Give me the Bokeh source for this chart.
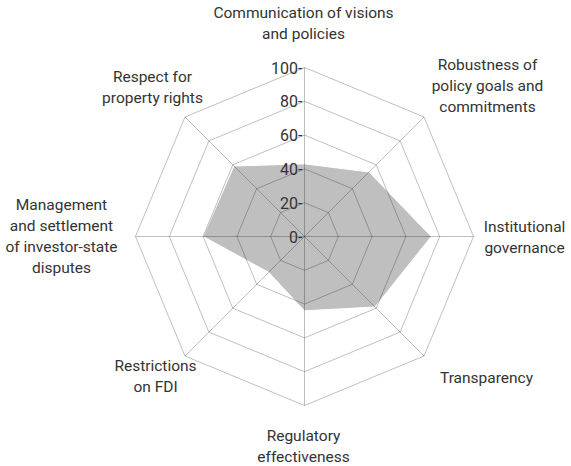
import math
from bokeh.plotting import figure
from bokeh.models import Range1d
from bokeh.core.properties import value
from bokeh.embed import file_html
from bokeh.resources import INLINE

# ---- data ----
categories = [
    "Communication of visions and policies",
    "Robustness of policy goals and commitments",
    "Institutional governance",
    "Transparency",
    "Regulatory effectiveness",
    "Restrictions on FDI",
    "Management and settlement of investor-state disputes",
    "Respect for property rights",
]
scores = [43, 54, 75, 59, 44, 30, 60, 59]
ring_levels = [20, 40, 60, 80, 100]
tick_labels = ["0-", "20-", "40-", "60-", "80-", "100-"]
tick_values = [0, 20, 40, 60, 80, 100]

# label line breaks (text only)
label_lines = [
    ["Communication of visions", "and policies"],
    ["Robustness of", "policy goals and", "commitments"],
    ["Institutional", "governance"],
    ["Transparency"],
    ["Regulatory", "effectiveness"],
    ["Restrictions", "on FDI"],
    ["Management", "and settlement", "of investor-state", "disputes"],
    ["Respect for", "property rights"],
]

# ---- layout (pixel placement of category labels, page px) ----
CX, CY, S = 304.0, 236.0, 1.69
label_centers = [(303, 12), (487, 64), (524, 226), (486, 377),
                 (303, 435), (155, 365), (61, 204), (152, 76)]
LINE_H = 21

def px2u(px, py):
    return (px - CX) / S, (CY - py) / S

n = len(categories)
angles = [math.pi / 2 - i * 2 * math.pi / n for i in range(n)]

W, H = 571, 466
p = figure(width=W, height=H, output_backend="svg", toolbar_location=None,
           x_range=Range1d(-CX / S, (W - CX) / S),
           y_range=Range1d((CY - H) / S, CY / S),
           min_border=0, outline_line_color=None)
p.axis.visible = False
p.grid.visible = False
p.background_fill_color = "white"
p.border_fill_color = "white"

# filled polygon
xs = [v * math.cos(a) for v, a in zip(scores, angles)]
ys = [v * math.sin(a) for v, a in zip(scores, angles)]
p.patch(xs, ys, fill_color="#bfbfbf", line_color="white", line_width=1)

# rings
rx, ry = [], []
for lv in ring_levels:
    rx.append([lv * math.cos(a) for a in angles] + [lv * math.cos(angles[0])])
    ry.append([lv * math.sin(a) for a in angles] + [lv * math.sin(angles[0])])
p.multi_line(rx, ry, line_color="black", line_alpha=0.25, line_width=1)

# spokes
sx = [[0, 100 * math.cos(a)] for a in angles]
sy = [[0, 100 * math.sin(a)] for a in angles]
p.multi_line(sx, sy, line_color="black", line_alpha=0.25, line_width=1)

# tick labels
p.text(x=[-2 / S] * len(tick_values), y=tick_values, text=tick_labels,
       text_align="right", text_baseline="middle",
       text_font=value("Roboto"), text_font_size="16px", text_color="#333333")

# category labels
tx, ty, tt = [], [], []
for (cx, cy), lines in zip(label_centers, label_lines):
    for k, line in enumerate(lines):
        ux, uy = px2u(cx, cy + k * LINE_H)
        tx.append(ux); ty.append(uy); tt.append(line)
p.text(x=tx, y=ty, text=tt, text_align="center", text_baseline="middle",
       text_font=value("Roboto"), text_font_size="15.5px", text_color="#333333")

open("out.html", "w").write(file_html(p, INLINE))
